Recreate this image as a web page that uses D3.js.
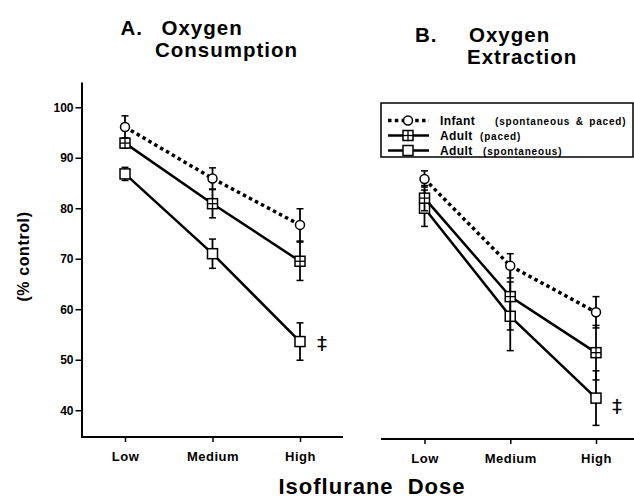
<!DOCTYPE html>
<html>
<head>
<meta charset="utf-8">
<script src="https://cdn.jsdelivr.net/npm/d3@7"></script>
<style>
  html, body { margin: 0; padding: 0; background: #fff; }
  svg { display: block; }
  text { font-family: "Liberation Sans", Arial, Helvetica, sans-serif; font-weight: bold; fill: #000; }
</style>
</head>
<body>
<svg id="chart" width="634" height="500"></svg>
<script>
// ---------- data ----------
const categories = ["Low", "Medium", "High"];
const yTicks = [40, 50, 60, 70, 80, 90, 100];

// Panel A: Oxygen Consumption (% control)
const infantA    = [96.1, 85.9, 76.7];
const infantAErr = [2.2, 2.1, 3.2];
const pacedA     = [92.9, 80.9, 69.5];
const pacedAErr  = [1.0, 2.8, 3.8];
const spontA     = [86.8, 71.0, 53.6];
const spontAErr  = [1.3, 2.9, 3.7];

// Panel B: Oxygen Extraction (% control)
const infantB    = [85.8, 68.6, 59.4];
const infantBErr = [1.6, 2.4, 3.1];
const pacedB     = [82.0, 62.5, 51.4];
const pacedBErr  = [2.5, 6.6, 5.4];
const spontB     = [80.0, 58.6, 42.4];
const spontBErr  = [3.6, 6.8, 5.4];

const legendNames = ["Infant", "Adult", "Adult"];
const legendNotes = ["(spontaneous & paced)", "(paced)", "(spontaneous)"];

// ---------- layout ----------
const svg = d3.select("#chart");
const y = d3.scaleLinear().domain([34.7, 105]).range([437, 82]);
const xA = d3.scalePoint().domain(categories).range([125, 300]);
const xB = d3.scalePoint().domain(categories).range([424.5, 596]);

// Y axis (panel A only)
const yAxis = svg.append("g")
  .attr("transform", "translate(81.5,0)")
  .call(d3.axisLeft(y).tickValues(yTicks).tickSizeInner(6).tickSizeOuter(0).tickPadding(2));
yAxis.select(".domain").attr("stroke-width", 2);
yAxis.selectAll(".tick line").attr("stroke-width", 1.5);
yAxis.selectAll(".tick text").style("font-size", "12px").style("font-weight", "bold")
  .style("font-family", "'Liberation Sans', Arial, sans-serif");

function xAxis(scale, yPos, x0, x1) {
  const g = svg.append("g").attr("transform", `translate(0,${yPos})`)
    .call(d3.axisBottom(scale).tickSizeInner(5).tickSizeOuter(0).tickPadding(10));
  g.select(".domain").remove();
  g.append("line").attr("x1", x0).attr("x2", x1).attr("y1", 0).attr("y2", 0)
    .attr("stroke", "#000").attr("stroke-width", 2);
  g.selectAll(".tick line").attr("stroke-width", 1.5);
  g.selectAll(".tick text").style("font-size", "13px").style("font-weight", "bold")
    .style("font-family", "'Liberation Sans', Arial, sans-serif").attr("letter-spacing", 0.5);
}
xAxis(xA, 437, 81, 343);
xAxis(xB, 439, 381, 634);

// ---------- series ----------
function drawSeries(x, vals, errs, type) {
  const pts = categories.map((c, i) => ({ x: x(c), y: y(vals[i]), lo: y(vals[i] - errs[i]), hi: y(vals[i] + errs[i]) }));
  const line = d3.line().x(d => d.x).y(d => d.y);
  const path = svg.append("path").datum(pts).attr("d", line)
    .attr("fill", "none").attr("stroke", "#000");
  if (type === "circle") {
    path.attr("stroke-width", 3.5).attr("stroke-dasharray", "3.5,3.3");
  } else {
    path.attr("stroke-width", 2.5);
  }
  const eb = svg.append("g").attr("stroke", "#000");
  pts.forEach(d => {
    eb.append("line").attr("x1", d.x).attr("x2", d.x).attr("y1", d.hi).attr("y2", d.lo).attr("stroke-width", 1.8);
    [d.hi, d.lo].forEach(v => eb.append("line").attr("x1", d.x - 3.5).attr("x2", d.x + 3.5)
      .attr("y1", v).attr("y2", v).attr("stroke-width", 1.5));
  });
  pts.forEach(d => drawMarker(d.x, d.y, type));
}

function drawMarker(cx, cy, type) {
  if (type === "circle") {
    svg.append("circle").attr("cx", cx).attr("cy", cy).attr("r", 4.5)
      .attr("fill", "#fff").attr("stroke", "#000").attr("stroke-width", 1.5);
  } else {
    svg.append("rect").attr("x", cx - 5).attr("y", cy - 5).attr("width", 10).attr("height", 10)
      .attr("fill", "#fff").attr("stroke", "#000").attr("stroke-width", 1.5);
    if (type === "cross") {
      svg.append("line").attr("x1", cx).attr("x2", cx).attr("y1", cy - 5).attr("y2", cy + 5)
        .attr("stroke", "#000").attr("stroke-width", 1.3);
      svg.append("line").attr("x1", cx - 5).attr("x2", cx + 5).attr("y1", cy).attr("y2", cy)
        .attr("stroke", "#000").attr("stroke-width", 1.3);
    }
  }
}

drawSeries(xA, spontA, spontAErr, "square");
drawSeries(xA, pacedA, pacedAErr, "cross");
drawSeries(xA, infantA, infantAErr, "circle");
drawSeries(xB, spontB, spontBErr, "square");
drawSeries(xB, pacedB, pacedBErr, "cross");
drawSeries(xB, infantB, infantBErr, "circle");

// significance marks
const dagger = (x, yy) => svg.append("text").attr("x", x).attr("y", yy)
  .attr("text-anchor", "middle").style("font-size", "20px").style("font-weight", "normal")
  .style("font-family", "'DejaVu Sans', sans-serif").style("fill", "#000").text("‡");
dagger(xA("High") + 22, y(spontA[2]) + 8);
dagger(xB("High") + 21, y(spontB[2]) + 15);

// ---------- titles ----------
const title = (x, yy, t) => svg.append("text").attr("x", x).attr("y", yy)
  .style("font-size", "20.5px").attr("letter-spacing", 1).text(t);
title(120.5, 35, "A.");
title(161.5, 35, "Oxygen");
title(155, 57, "Consumption");
title(415, 42, "B.");
title(469, 42, "Oxygen");
title(467, 64, "Extraction");

svg.append("text").attr("transform", "translate(29,256.5) rotate(-90)")
  .attr("text-anchor", "middle").style("font-size", "16px").attr("letter-spacing", 0.6)
  .text("(% control)");

svg.append("text").attr("x", 372).attr("y", 494).attr("text-anchor", "middle")
  .style("font-size", "22px").attr("letter-spacing", 1).attr("word-spacing", 7)
  .text("Isoflurane Dose");

// ---------- legend ----------
svg.append("rect").attr("x", 381).attr("y", 103).attr("width", 252).attr("height", 54)
  .attr("fill", "none").attr("stroke", "#000").attr("stroke-width", 1.5);
const legendTypes = ["circle", "cross", "square"];
const noteX = [495, 480, 483];
legendTypes.forEach((t, i) => {
  const cy = 120.5 + i * 15;
  const l = svg.append("line").attr("x1", 388).attr("x2", 429).attr("y1", cy).attr("y2", cy)
    .attr("stroke", "#000");
  if (t === "circle") l.attr("stroke-width", 3.5).attr("stroke-dasharray", "3.5,3.3");
  else l.attr("stroke-width", 2.5);
  drawMarker(408, cy, t);
  svg.append("text").attr("x", 440).attr("y", cy + 4.5).style("font-size", "12px")
    .attr("letter-spacing", 0.4).text(legendNames[i]);
  svg.append("text").attr("x", noteX[i]).attr("y", cy + 4).style("font-size", "10px")
    .attr("letter-spacing", 0.8).attr("word-spacing", 2).text(legendNotes[i]);
});
</script>
</body>
</html>
